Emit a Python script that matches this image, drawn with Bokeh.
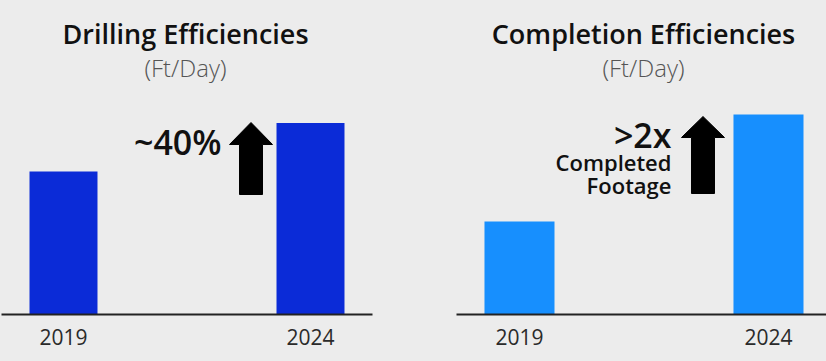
from bokeh.plotting import figure
from bokeh.layouts import row
from bokeh.models import Range1d, FixedTicker
from bokeh.core.properties import value
from bokeh.embed import file_html
from bokeh.resources import INLINE

# ---- data (relative values, 2019 = 100) ----
years = [2019, 2024]
year_labels = ["2019", "2024"]
drilling = [100, 134]
completion = [100, 215]

drill_title = "Drilling Efficiencies"
comp_title = "Completion Efficiencies"
unit_label = "(Ft/Day)"
drill_note = "~40%"
comp_note = ">2x"
comp_note_sub = ["Completed", "Footage"]

BG = "#ececec"
FONT = "Open Sans"
FONT_SB = "Open Sans SemiBold"
FONT_LT = "Open Sans Light"


def make_panel(vals, color, x_start, x_end, y_end, bar_w, fw, fh, mbl, mbr):
    p = figure(frame_width=fw, frame_height=fh, output_backend="svg",
               toolbar_location=None, x_range=Range1d(x_start, x_end),
               y_range=Range1d(0, y_end), y_axis_location=None,
               min_border_left=mbl, min_border_right=mbr, min_border_top=0,
               min_border_bottom=47)
    p.background_fill_color = BG
    p.border_fill_color = BG
    p.outline_line_color = None
    p.grid.visible = False
    p.vbar(x=years, top=vals, width=bar_w, bottom=0, fill_color=color,
           line_color=None)
    ax = p.xaxis[0]
    ax.ticker = FixedTicker(ticks=years)
    ax.major_label_overrides = {y: s for y, s in zip(years, year_labels)}
    ax.major_tick_line_color = None
    ax.minor_tick_line_color = None
    ax.axis_line_color = "#222222"
    ax.axis_line_width = 2
    ax.major_label_text_font = FONT
    ax.major_label_text_font_size = "21px"
    ax.major_label_text_color = "#2a2a2a"
    ax.major_label_standoff = 8
    return p


def mapper(x_start, frame_left, sx, frame_bottom, sy):
    def X(px):
        return x_start + (px - frame_left) / sx
    def Y(py):
        return (frame_bottom - py) / sy
    return X, Y


def add_texts(p, X, Y, title, title_x):
    p.text(x=[X(title_x)], y=[Y(33)], text=[title], text_font=value(FONT_SB),
           text_font_size="27px", text_align="center",
           text_baseline="middle", text_color="#111111")
    p.text(x=[X(title_x)], y=[Y(67)], text=[unit_label], text_font=value(FONT_LT),
           text_font_size="24px", text_align="center",
           text_baseline="middle", text_color="#555555")


def add_arrow(p, X, Y, sl, sr, bottom, hb, hl, hr, tip):
    tx = (sl + sr) / 2
    xs = [X(v) for v in [sl, sr, sr, hr, tx, hl, sl]]
    ys = [Y(v) for v in [bottom, bottom, hb, hb, tip, hb, hb]]
    p.patch(xs, ys, fill_color="black", line_color="black", line_width=1)


# ---- left panel (page x 0..413) ----
L_start, L_end = 2017.745, 2025.255
LX, LY = mapper(L_start, 1, 49.4, 314, 1.43)
p1 = make_panel(drilling, "#0b2bd7", L_start, L_end, 314 / 1.43, 1.376,
                371, 314, 1, 41)
add_texts(p1, LX, LY, drill_title, 185)
p1.text(x=[LX(221)], y=[LY(141)], text=[drill_note], text_font=value(FONT_SB),
        text_font_size="34px", text_align="right",
        text_baseline="middle", text_color="#111111")
add_arrow(p1, LX, LY, 239, 262, 194, 144, 229, 272, 122)

# ---- right panel (page x 413..826) ----
R_start, R_end = 2017.735, 2025.165
RX, RY = mapper(R_start, 456, 49.8, 314, 0.93)
p2 = make_panel(completion, "#178ffe", R_start, R_end, 314 / 0.93, 1.406,
                370, 314, 43, 0)
add_texts(p2, RX, RY, comp_title, 643)
p2.text(x=[RX(671)], y=[RY(134)], text=[comp_note], text_font=value(FONT_SB),
        text_font_size="34px", text_align="right",
        text_baseline="middle", text_color="#111111")
p2.text(x=[RX(671), RX(671)], y=[RY(161), RY(184)], text=comp_note_sub,
        text_font=value(FONT_SB), text_font_size="22px",
        text_align="right", text_baseline="middle", text_color="#111111")
add_arrow(p2, RX, RY, 691, 714, 193, 137, 681, 724, 116)

layout = row(p1, p2, spacing=0)
layout.styles = {"background-color": BG}
open("out.html", "w").write(file_html(layout, INLINE))
